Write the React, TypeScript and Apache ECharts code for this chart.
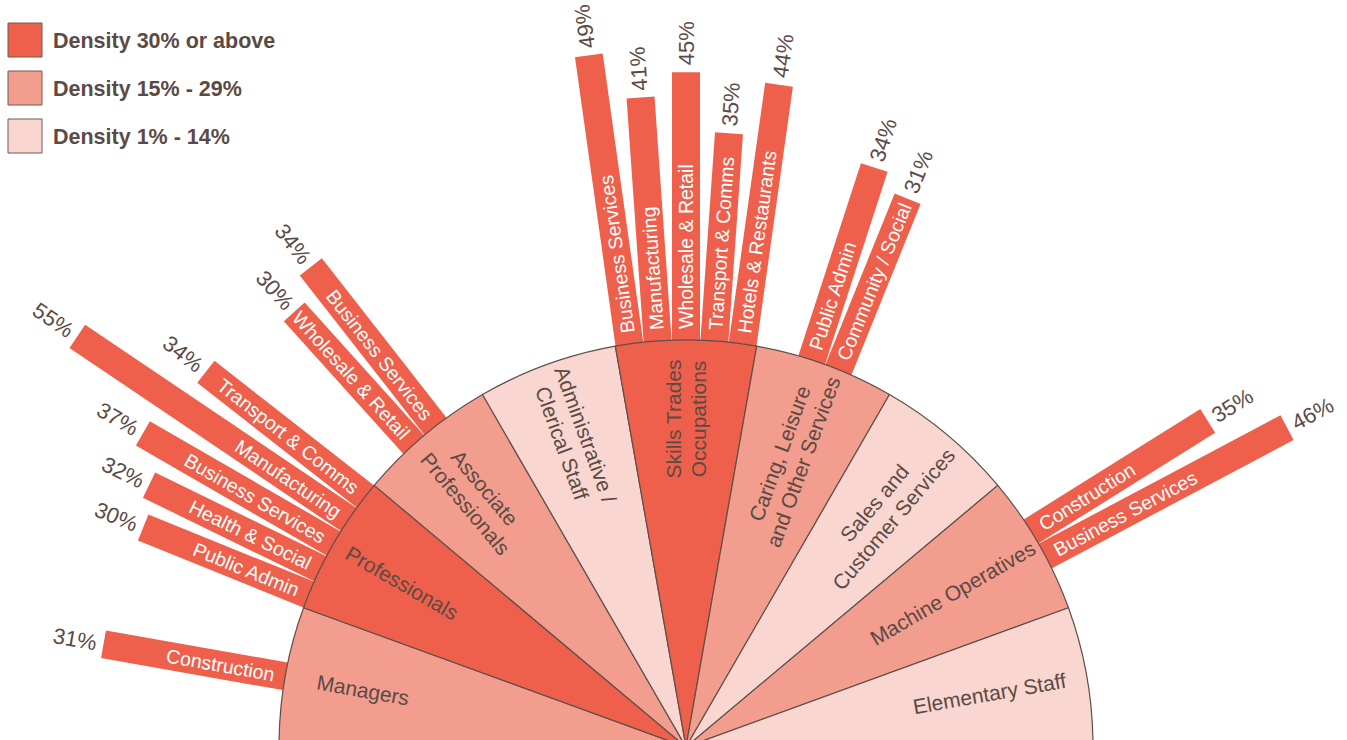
import React, { useEffect, useRef } from "react";
import * as echarts from "echarts";

// ---------- data ----------
const occupationNames = [
  "Managers",
  "Professionals",
  "Associate\nProfessionals",
  "Administrative /\nClerical Staff",
  "Skills Trades\nOccupations",
  "Caring, Leisure\nand Other Services",
  "Sales and\nCustomer Services",
  "Machine Operatives",
  "Elementary Staff",
];
// density band per occupation: 3 = 30% or above, 2 = 15% - 29%, 1 = 1% - 14%
const occupationBand = [2, 3, 2, 1, 3, 2, 1, 2, 1];

const legendLabels = ["Density 30% or above", "Density 15% - 29%", "Density 1% - 14%"];
const legendBands = [3, 2, 1];

// industry bars, listed clockwise (left to right), with their occupation index
const barOccupation = [0, 1, 1, 1, 1, 1, 2, 2, 4, 4, 4, 4, 4, 5, 5, 7, 7];
const barIndustries = [
  "Construction",
  "Public Admin",
  "Health & Social",
  "Business Services",
  "Manufacturing",
  "Transport & Comms",
  "Wholesale & Retail",
  "Business Services",
  "Business Services",
  "Manufacturing",
  "Wholesale & Retail",
  "Transport & Comms",
  "Hotels & Restaurants",
  "Public Admin",
  "Community / Social",
  "Construction",
  "Business Services",
];
const barDensities = [31, 30, 32, 37, 55, 34, 30, 34, 49, 41, 45, 35, 44, 34, 31, 35, 46];

// ---------- styles / layout ----------
const BAND_COLORS: Record<number, string> = { 3: "#EE604B", 2: "#F39D8F", 1: "#F9D6D0" };
const TEXT_COLOR = "#5B4A44";
const LINE_COLOR = "#5E4F48";
const FONT = '"Liberation Sans", Arial, Helvetica, sans-serif';
const CENTER: [number, number] = [686, 747];
const PIE_R = 407;
const PX_PER_PCT = 5.95;
const R_MIN = -PIE_R / PX_PER_PCT;
const R_MAX = 70;
const POLAR_R = (R_MAX - R_MIN) * PX_PER_PCT;
const SECTOR_SPAN = 180 / occupationNames.length;
const BAR_STEP = 4;
const BAR_W = 28;
const TEXT_PAD = 11;
const PCT_GAP = 7;
const LEFT_LABEL_R0 = 243;
const RIGHT_LABEL_R0 = 203;

const barAngles = barOccupation.map((occ, i) => {
  const members = barOccupation.map((o, j) => (o === occ ? j : -1)).filter((j) => j >= 0);
  const k = members.indexOf(i);
  const n = members.length;
  const mid = 180 - SECTOR_SPAN * occ - SECTOR_SPAN / 2;
  return mid + ((n - 1) / 2 - k) * BAR_STEP;
});

export default function App() {
  const ref = useRef<HTMLDivElement>(null);

  useEffect(() => {
    if (!ref.current) return;
    document.body.style.margin = "0";
    const chart = echarts.init(ref.current, undefined, { renderer: "svg" });

    const sliceCount = occupationNames.length;
    const pieData: any[] = occupationNames.map((name, i) => ({
      name,
      value: 1,
      itemStyle: { color: BAND_COLORS[occupationBand[i]] },
    }));
    // hidden lower half
    pieData.push({
      name: "",
      value: sliceCount,
      itemStyle: { color: "rgba(0,0,0,0)", borderWidth: 0 },
      label: { show: false },
    });

    const makeLabelData = (leftSide: boolean) => {
      const d: any[] = occupationNames.map((name, i) => {
        const mid = 180 - SECTOR_SPAN * i - SECTOR_SPAN / 2;
        const isLeft = mid >= 90;
        return {
          name,
          value: 1,
          label: { show: isLeft === leftSide, rotate: mid > 90 ? mid - 180 : mid },
        };
      });
      d.push({ name: "", value: sliceCount, label: { show: false } });
      return d;
    };

    const labelPie = (r0: number, leftSide: boolean) => ({
      type: "pie",
      z: 4,
      silent: true,
      center: CENTER,
      radius: [r0, PIE_R],
      startAngle: 180,
      clockwise: true,
      avoidLabelOverlap: false,
      itemStyle: { color: "rgba(0,0,0,0)", borderWidth: 0 },
      label: {
        show: true,
        position: "inside",
        color: TEXT_COLOR,
        fontSize: 21,
        lineHeight: 25,
        fontFamily: FONT,
        align: "center",
      },
      labelLine: { show: false },
      emphasis: { disabled: true },
      data: makeLabelData(leftSide),
    });

    const option: any = {
      animation: false,
      backgroundColor: "#ffffff",
      polar: { center: CENTER, radius: POLAR_R },
      angleAxis: {
        type: "value",
        min: 0,
        max: 360,
        startAngle: 0,
        clockwise: false,
        show: false,
      },
      radiusAxis: { type: "value", min: R_MIN, max: R_MAX, show: false },
      graphic: legendLabels.map((text, i) => ({
        type: "group",
        x: 8,
        y: 23 + i * 48,
        children: [
          {
            type: "rect",
            shape: { x: 0, y: 0, width: 34, height: 34 },
            style: { fill: BAND_COLORS[legendBands[i]], stroke: "#6E5A52", lineWidth: 1 },
          },
          {
            type: "text",
            x: 45,
            y: 18,
            style: {
              text,
              fill: TEXT_COLOR,
              fontSize: 21.5,
              fontWeight: "bold",
              fontFamily: FONT,
              verticalAlign: "middle",
              align: "left",
            },
          },
        ],
      })),
      series: [
        {
          type: "custom",
          coordinateSystem: "polar",
          z: 1,
          silent: true,
          data: barDensities.map((d, i) => [d, barAngles[i]]),
          renderItem: (params: any, api: any) => {
            const v = api.value(0) as number;
            const ang = api.value(1) as number;
            const base = api.coord([0, ang]);
            const tip = api.coord([v, ang]);
            const dx = tip[0] - base[0];
            const dy = tip[1] - base[1];
            const len = Math.hypot(dx, dy);
            const rot = Math.atan2(-dy, dx);
            const flip = ang > 100;
            return {
              type: "group",
              x: base[0],
              y: base[1],
              rotation: rot,
              children: [
                {
                  type: "rect",
                  shape: { x: -10, y: -BAR_W / 2, width: len + 10, height: BAR_W },
                  style: { fill: BAND_COLORS[3] },
                },
                {
                  type: "text",
                  x: TEXT_PAD,
                  y: 0,
                  rotation: flip ? Math.PI : 0,
                  style: {
                    text: barIndustries[params.dataIndex],
                    fill: "#ffffff",
                    fontSize: 19.5,
                    fontFamily: FONT,
                    align: flip ? "right" : "left",
                    verticalAlign: "middle",
                  },
                },
                {
                  type: "text",
                  x: len + PCT_GAP,
                  y: 0,
                  rotation: flip ? Math.PI : 0,
                  style: {
                    text: v + "%",
                    fill: TEXT_COLOR,
                    fontSize: 22,
                    fontFamily: FONT,
                    align: flip ? "right" : "left",
                    verticalAlign: "middle",
                  },
                },
              ],
            };
          },
        },
        {
          type: "pie",
          z: 3,
          silent: true,
          center: CENTER,
          radius: [0, PIE_R],
          startAngle: 180,
          clockwise: true,
          avoidLabelOverlap: false,
          label: { show: false },
          labelLine: { show: false },
          emphasis: { disabled: true },
          itemStyle: { borderColor: LINE_COLOR, borderWidth: 1.2 },
          data: pieData,
        },
        labelPie(LEFT_LABEL_R0, true),
        labelPie(RIGHT_LABEL_R0, false),
      ],
    };

    chart.setOption(option);
    return () => chart.dispose();
  }, []);

  return (
    <div
      ref={ref}
      style={{ position: "fixed", left: 0, top: 0, width: 1347, height: 740, background: "#fff" }}
    />
  );
}
